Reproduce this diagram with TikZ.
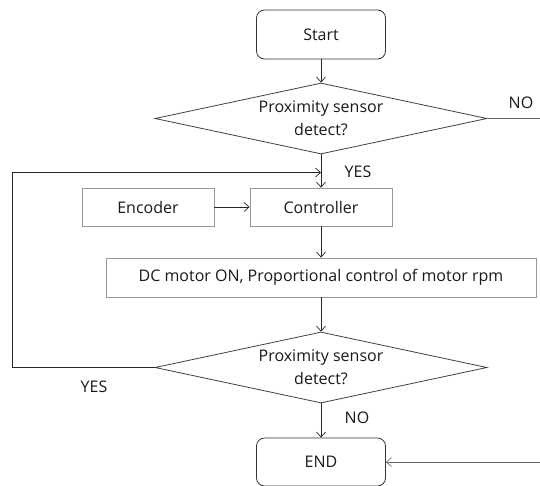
\documentclass[tikz,border=0pt]{standalone}
\usepackage{fontspec}
\setmainfont{Open Sans}
\usetikzlibrary{shapes.geometric,arrows.meta}
\begin{document}
\begin{tikzpicture}[x=1pt,y=-1pt,
  every node/.style={font=\fontsize{16}{23}\selectfont, text=black!90},
  term/.style={draw=black!80, line width=0.8pt, rounded corners=8pt, minimum width=129pt, minimum height=49pt, inner sep=0pt},
  proc/.style={draw=black!40, line width=0.8pt, minimum height=38pt, inner sep=0pt},
  dec/.style={draw=black!75, line width=0.8pt, diamond, shape aspect=4.676, minimum width=332pt, minimum height=71pt, inner sep=0pt, align=center},
  conn/.style={draw=black!85, line width=0.7pt, -{Straight Barb[length=5pt,width=9pt]}},
  plain/.style={draw=black!85, line width=0.7pt},
  lbl/.style={inner sep=0pt}
]
\useasboundingbox (0,0) rectangle (540,485);
\node[term] (start) at (321,34.5) {Start};
\node[dec] (d1) at (321,118.5) {Proximity sensor\\detect?};
\node[proc, minimum width=132pt] (enc) at (148,207) {Encoder};
\node[proc, minimum width=142pt] (ctrl) at (321,207) {Controller};
\node[proc, minimum width=430pt, minimum height=39pt] (dc) at (321,277.5) {DC motor ON, Proportional control of motor rpm};
\node[dec] (d2) at (321,367.5) {Proximity sensor\\detect?};
\node[term, minimum height=48pt] (end) at (321,462) {END};

\coordinate (j) at (321,172.5);
\coordinate (lc) at (12,367.5);
\coordinate (noR) at (540,118.5);
\coordinate (endR) at (540,462);

\draw[conn] (start) -- (d1);
\draw[conn] (d1) -- (ctrl);
\draw[conn] (d2.west) -- (lc) |- (j);
\draw[conn] (enc) -- (ctrl);
\draw[conn] (ctrl) -- (dc);
\draw[conn] (dc) -- (d2);
\draw[conn] (d2) -- (end);
\draw[plain, draw=black!60] (d1.east) -- (noR);
\draw[conn, draw=black!60] (endR) -- (end);

\node[lbl] (yes1) at (358,172) {YES};
\node[lbl] (no1) at (521,103) {NO};
\node[lbl] (yes2) at (94,387) {YES};
\node[lbl] (no2) at (357,418) {NO};
\end{tikzpicture}
\end{document}
